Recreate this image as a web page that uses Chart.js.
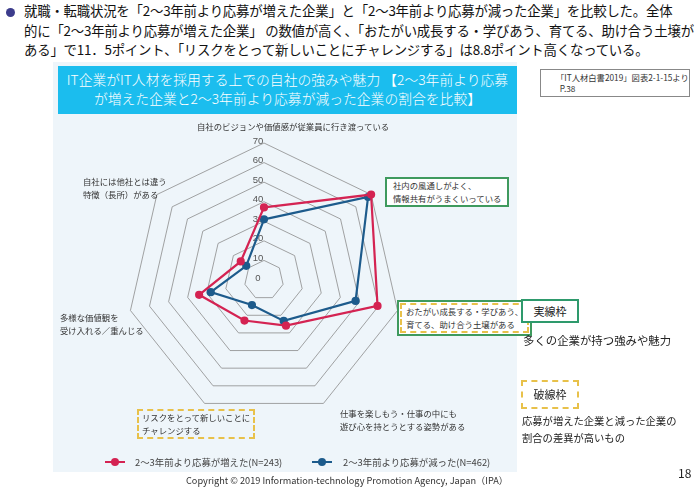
<!DOCTYPE html>
<html>
<head>
<meta charset="utf-8">
<script src="https://cdn.jsdelivr.net/npm/chart.js@4"></script>
<style>
  body { margin:0; width:700px; height:490px; background:#fff; position:relative; overflow:hidden;
         font-family:"Noto Sans CJK JP", "Noto Sans", sans-serif; color:#222; }
  .abs { position:absolute; white-space:nowrap; }
  #intro { left:24px; top:1px; font-size:13.4px; line-height:19.6px; color:#111; letter-spacing:-0.2px; }
  #bullet { left:6px; top:8px; width:9px; height:9px; border-radius:50%; background:#3c3c8c; }
  #panel { left:53px; top:62px; width:464px; height:410px; background:#eef5fa; }
  #title { left:58px; top:66px; width:459px; height:48px; background:#1bbdee; color:#fff;
           font-size:13.8px; line-height:19px; text-align:center; padding-top:4px; box-sizing:border-box; font-weight:300; }
  #src { left:540px; top:69px; width:150px; height:28px; border:1px solid #888; background:#fff;
         font-size:8.3px; line-height:11px; padding:2px 0 0 15px; box-sizing:border-box; color:#333; }
  .cat { font-size:8.4px; line-height:13px; color:#333; }
  .green { border:2px solid #3f9a5e; background:#fff; }
  .dash { border:2px dashed #e8c14a; }
  #wrap { left:0; top:0; width:700px; height:490px; }
  .leg { font-size:9.4px; color:#444; top:455px; }
  .mk { position:absolute; top:461px; height:2px; width:20px; }
  .mk::after { content:""; position:absolute; left:6px; top:-3px; width:8px; height:8px; border-radius:50%; background:inherit; }
  .side { color:#222; }
</style>
</head>
<body>
<div id="bullet" class="abs"></div>
<div id="intro" class="abs">就職・転職状況を「2～3年前より応募が増えた企業」と「2～3年前より応募が減った企業」を比較した。全体<br>的に「2～3年前より応募が増えた企業」 の数値が高く、「おたがい成長する・学びあう、育てる、助け合う土壌が<br>ある」で11．5ポイント、「リスクをとって新しいことにチャレンジする」は8.8ポイント高くなっている。</div>
<div id="panel" class="abs"></div>
<div id="title" class="abs">IT企業がIT人材を採用する上での自社の強みや魅力 【2～3年前より応募<br>が増えた企業と2～3年前より応募が減った企業の割合を比較】</div>
<div id="src" class="abs">「IT人材白書2019」図表2-1-15より<br>&nbsp;&nbsp;P.38</div>

<div id="wrap" class="abs"><canvas id="myChart"></canvas></div>

<div id="c0" class="abs cat" style="left:197px;top:120px;"></div>
<div id="c1" class="abs cat green" style="left:385px;top:177px;padding:0 6px;"></div>
<div id="c2" class="abs cat green" style="left:397px;top:300px;padding:1px;"><div class="dash" style="padding:0 4px;"></div></div>
<div id="c3" class="abs cat" style="left:340px;top:407px;"></div>
<div id="c4" class="abs cat dash" style="left:137px;top:409px;padding:0 3px;"></div>
<div id="c5" class="abs cat" style="left:60px;top:311px;"></div>
<div id="c6" class="abs cat" style="left:83px;top:175px;"></div>

<div class="mk" style="left:105px;background:#d42352;"></div>
<div id="leg0" class="abs leg" style="left:135px;"></div>
<div class="mk" style="left:312px;background:#1d5b8c;"></div>
<div id="leg1" class="abs leg" style="left:343px;"></div>

<div class="abs" style="left:186px;top:473px;font-size:9.2px;color:#333;">Copyright © 2019 Information-technology Promotion Agency, Japan（IPA）</div>

<div class="abs green side" style="left:521px;top:299px;width:58px;height:24px;box-sizing:border-box;text-align:center;line-height:20px;font-size:11px;border-color:#2e9a6c;">実線枠</div>
<div class="abs side" style="left:523px;top:332px;font-size:11.4px;">多くの企業が持つ強みや魅力</div>
<div class="abs dash side" style="left:521px;top:380px;width:58px;height:29px;box-sizing:border-box;text-align:center;line-height:25px;font-size:11px;">破線枠</div>
<div class="abs side" style="left:522px;top:412px;line-height:17px;font-size:10.3px;">応募が増えた企業と減った企業の<br>割合の差異が高いもの</div>
<div class="abs" style="left:678px;top:464px;font-size:12px;color:#222;">18</div>

<script>
const categories = [
  ['自社のビジョンや価値感が従業員に行き渡っている'],
  ['社内の風通しがよく、', '情報共有がうまくいっている'],
  ['おたがい成長する・学びあう、', '育てる、助け合う土壌がある'],
  ['仕事を楽しもう・仕事の中にも', '遊び心を持とうとする姿勢がある'],
  ['リスクをとって新しいことに', 'チャレンジする'],
  ['多様な価値観を', '受け入れる／重んじる'],
  ['自社には他社とは違う', '特徴（長所）がある']
]
const seriesNames = ['2～3年前より応募が増えた(N=243)', '2～3年前より応募が減った(N=462)']
const increased = [37.1, 70.0, 59.5, 25.9, 23.0, 34.0, 15.2]
const decreased = [31.0, 68.0, 48.0, 23.2, 14.2, 27.9, 11.6]
const tickValues = [0, 10, 20, 30, 40, 50, 60, 70]

// category labels and legend as html text
categories.forEach((lines, i) => {
  const el = document.getElementById('c' + i)
  const target = el.firstElementChild || el
  target.innerHTML = lines.join('<br>')
})
document.getElementById('leg0').textContent = seriesNames[0]
document.getElementById('leg1').textContent = seriesNames[1]

// tick labels drawn next to the vertical axis
const tickPlugin = {
  id: 'tickLabels',
  beforeDatasetsDraw(chart) {
    const scale = chart.scales.r
    const ctx = chart.ctx
    ctx.save()
    ctx.font = '9.5px "Liberation Sans", Arial, sans-serif'
    ctx.fillStyle = '#555'
    ctx.textAlign = 'center'
    ctx.textBaseline = 'middle'
    tickValues.forEach(v => {
      const d = scale.getDistanceFromCenterForValue(v)
      ctx.fillText(String(v), scale.xCenter - 6, scale.yCenter - d - 2)
    })
    ctx.restore()
  }
}

const ctx = document.getElementById('myChart')
const myChart = new Chart(ctx, {
  type: 'radar',
  data: {
    labels: categories.map(c => c.join('')),
    datasets: [
      {
        label: seriesNames[0],
        data: increased,
        borderColor: '#d42352',
        backgroundColor: '#d42352',
        pointBackgroundColor: '#d42352',
        pointBorderColor: '#d42352',
        borderWidth: 2.2,
        pointRadius: 3,
        fill: false
      },
      {
        label: seriesNames[1],
        data: decreased,
        borderColor: '#1d5b8c',
        backgroundColor: '#1d5b8c',
        pointBackgroundColor: '#1d5b8c',
        pointBorderColor: '#1d5b8c',
        borderWidth: 2.2,
        pointRadius: 3,
        fill: false
      }
    ]
  },
  options: {
    responsive: true,
    maintainAspectRatio: false,
    animation: false,
    layout: { padding: { left: 127, top: 143, right: 299, bottom: 73 } },
    plugins: { legend: { display: false }, tooltip: { enabled: false } },
    elements: { line: { tension: 0 } },
    scales: {
      r: {
        min: 0,
        max: 70,
        ticks: { display: false, stepSize: 10 },
        grid: { color: '#8c8c8c', lineWidth: 0.8 },
        angleLines: { display: false },
        pointLabels: { display: false }
      }
    }
  },
  plugins: [tickPlugin]
})
</script>
</body>
</html>
